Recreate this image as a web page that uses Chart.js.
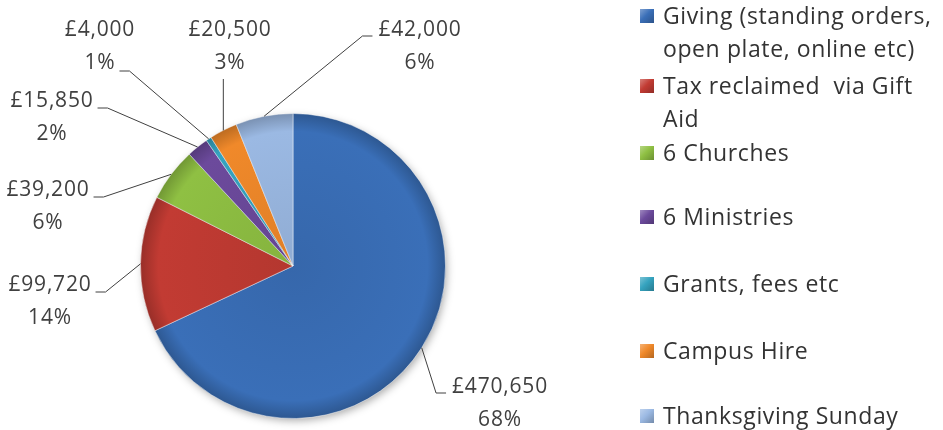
<!DOCTYPE html>
<html>
<head>
<meta charset="utf-8">
<script src="https://cdn.jsdelivr.net/npm/chart.js@4"></script>
<style>
  html, body { margin: 0; padding: 0; background: #fff; }
  #wrap { position: relative; width: 943px; height: 430px; overflow: hidden; }
  #wrap canvas { position: absolute; left: 0; top: 0; }
  #legend { position: absolute; left: 640px; top: 0; font-family: "Open Sans", sans-serif; font-size: 23px; letter-spacing: 0.6px; color: #333; }
  .item { position: absolute; left: 0; white-space: pre; line-height: 33px; }
  .item .box { position: absolute; left: 0; top: 10px; width: 14px; height: 14px; }
  .item .txt { position: absolute; left: 23px; top: 0; }
</style>
</head>
<body>
<div id="wrap">
  <canvas id="pie" width="943" height="430"></canvas>
  <div id="legend"></div>
</div>
<script>
// church income breakdown, pie with Excel-style leader labels

const categories = [
  ['Giving (standing orders,', 'open plate, online etc)'],
  ['Tax reclaimed  via Gift', 'Aid'],
  ['6 Churches'],
  ['6 Ministries'],
  ['Grants, fees etc'],
  ['Campus Hire'],
  ['Thanksgiving Sunday']
];
const amounts = [470650, 99720, 39200, 15850, 4000, 20500, 42000];

const colors = ['#3a6fb8', '#c23b33', '#8fc043', '#6c4a9c', '#35a3bf', '#f0892a', '#9bb9e3'];

// where each value label sits, and which side its leader leaves from
const labelPlace = [
  [500, 387, 'left'],
  [50, 285, 'right'],
  [48, 190, 'right'],
  [52, 101, 'right'],
  [100, 30, 'right2'],
  [230, 30, 'below'],
  [420, 30, 'left']
];
const legendTops = [-1, 69, 136, 200, 267, 334, 399];

function shade(hex, f) {
  const n = parseInt(hex.slice(1), 16);
  const c = [n >> 16, (n >> 8) & 255, n & 255].map(v => Math.round(f < 1 ? v * f : v + (255 - v) * (f - 1)));
  return `rgb(${c[0]},${c[1]},${c[2]})`;
}

function sliceFill(ctx) {
  const chart = ctx.chart;
  const a = chart.chartArea;
  if (!a) return colors[ctx.dataIndex];
  const cx = (a.left + a.right) / 2, cy = (a.top + a.bottom) / 2;
  const r = Math.min(a.right - a.left, a.bottom - a.top) / 2;
  const base = colors[ctx.dataIndex];
  const g = chart.ctx.createRadialGradient(cx, cy, 0, cx, cy, r);
  g.addColorStop(0, shade(base, 0.93));
  g.addColorStop(0.88, base);
  g.addColorStop(1, shade(base, 0.78));
  return g;
}

const pieShadow = {
  id: 'pieShadow',
  beforeDatasetsDraw(chart) {
    const arc = chart.getDatasetMeta(0).data[0];
    if (!arc) return;
    const p = arc.getProps(['x', 'y', 'outerRadius'], true);
    const ctx = chart.ctx;
    ctx.save();
    ctx.shadowColor = 'rgba(0,0,0,0.35)';
    ctx.shadowBlur = 8;
    ctx.shadowOffsetX = 2;
    ctx.shadowOffsetY = 3;
    ctx.fillStyle = '#3a6fb8';
    ctx.beginPath();
    ctx.arc(p.x, p.y, p.outerRadius - 1, 0, Math.PI * 2);
    ctx.fill();
    ctx.restore();
  }
};

const leaderLabels = {
  id: 'leaderLabels',
  afterDatasetsDraw(chart) {
    const ctx = chart.ctx;
    const meta = chart.getDatasetMeta(0);
    const total = amounts.reduce((a, b) => a + b, 0);
    const gap = 33;
    ctx.save();
    ctx.font = '21px "Open Sans"';
    ctx.letterSpacing = '0.8px';
    ctx.fillStyle = '#404040';
    ctx.strokeStyle = '#404040';
    ctx.lineWidth = 1;
    ctx.textAlign = 'center';
    ctx.textBaseline = 'middle';
    meta.data.forEach((arc, i) => {
      const p = arc.getProps(['x', 'y', 'startAngle', 'endAngle', 'outerRadius'], true);
      const mid = (p.startAngle + p.endAngle) / 2;
      const ax = p.x + Math.cos(mid) * p.outerRadius;
      const ay = p.y + Math.sin(mid) * p.outerRadius;
      const [lx, ly, side] = labelPlace[i];
      const t1 = '£' + amounts[i].toLocaleString('en-GB');
      const t2 = Math.round(amounts[i] / total * 100) + '%';
      ctx.fillText(t1, lx, ly);
      ctx.fillText(t2, lx, ly + gap);
      const w1 = ctx.measureText(t1).width / 2;
      const w2 = ctx.measureText(t2).width / 2;
      ctx.beginPath();
      if (side === 'right') {
        const sx = lx + w1 + 4, sy = ly + 7;
        ctx.moveTo(sx, sy); ctx.lineTo(sx + 10, sy); ctx.lineTo(ax, ay);
      } else if (side === 'right2') {
        const sx = lx + w2 + 4, sy = ly + gap + 8;
        ctx.moveTo(sx, sy); ctx.lineTo(sx + 10, sy); ctx.lineTo(ax, ay);
      } else if (side === 'left') {
        const sx = lx - w1 - 6, sy = ly + 6;
        ctx.moveTo(sx, sy); ctx.lineTo(sx - 10, sy); ctx.lineTo(ax, ay);
      } else {
        ctx.moveTo(ax, ly + gap + 16); ctx.lineTo(ax, ay);
      }
      ctx.stroke();
    });
    ctx.restore();
  }
};

new Chart(document.getElementById('pie'), {
  type: 'pie',
  data: {
    labels: categories.map(l => l.join(' ')),
    datasets: [{
      data: amounts,
      backgroundColor: sliceFill,
      borderColor: 'rgba(255,255,255,0.45)',
      borderWidth: 1
    }]
  },
  options: {
    responsive: false,
    animation: false,
    layout: { padding: { left: 140, right: 497, top: 113, bottom: 11 } },
    plugins: {
      legend: { display: false },
      tooltip: { enabled: false }
    }
  },
  plugins: [pieShadow, leaderLabels]
});

// legend, built from the same arrays
const legendEl = document.getElementById('legend');
categories.forEach((lines, i) => {
  const item = document.createElement('div');
  item.className = 'item';
  item.style.top = legendTops[i] + 'px';
  const c = colors[i];
  item.innerHTML = `<span class="box" style="background:linear-gradient(135deg, ${shade(c, 1.35)}, ${c} 45%, ${shade(c, 0.75)})"></span>` +
    `<span class="txt">${lines.join('\n')}</span>`;
  legendEl.appendChild(item);
});
</script>
</body>
</html>
